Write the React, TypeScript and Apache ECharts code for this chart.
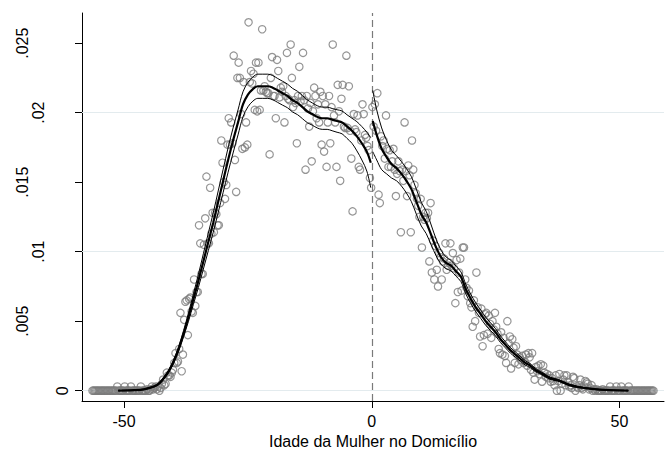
import React, { useEffect, useRef } from 'react';
import * as echarts from 'echarts';

// ---------- data ----------
const BIN_WIDTH = 0.25;
const LEFT_FIRST_BIN = -56.375;
const RIGHT_FIRST_BIN = 0.125;

// bin densities left of the cutoff (x = -56.375 ... -0.125)
const leftBinDensity = [
  0, 0,
  0, 0, 0, 0, 0, 0, 0, 0, 0, 0, 0, 0, 0, 0, 0, 0,
  0, 0, .0003, 0,
  0, 0, 0, 0,
  .0003, 0, 0, 0,
  0, .0003, 0, 0,
  0, 0, 0, 0,
  0, .0003, 0, 0,
  0, 0, .0001, 0,
  0, .0001, .0003, .0001,
  .0002, .0003, .0001, .0003,
  0, .0002, .0005, .0008,
  .0004, .0005, .0013, .0011,
  .0011, .001, .0013, .0015,
  .002, .0027, .002, .0021,
  .003, .0056, .0014, .0026,
  .0051, .0064, .0065, .004,
  .0066, .0067, .0057, .0056,
  .008, .0061, .0071, .0071,
  .0119, .0106, .0084, .0084,
  .0105, .0124, .0154, .0106,
  .0106, .0146, .0113, .0128,
  .0114, .0128, .0127, .0119,
  .0119, .0135, .018, .0164,
  .015, .0138, .0148, .0177,
  .0196, .0177, .0193, .0178,
  .0241, .0166, .0143, .0225,
  .0236, .0225, .0199, .0174,
  .0222, .0175, .0193, .0177,
  .0265, .0222, .023, .0221,
  .0228, .0202, .0236, .0201,
  .0236, .0202, .0216, .026,
  .0216, .0219, .0215, .0214,
  .0214, .017, .0225, .024,
  .0212, .0212, .0196, .0238,
  .023, .0211, .0218, .0215,
  .0219, .0193, .0212, .0243,
  .021, .0209, .0249, .0225,
  .0204, .0209, .0207, .0178,
  .0212, .0233, .0208, .0212,
  .0243, .0209, .0159, .0212,
  .0203, .019, .0207, .0165,
  .0201, .0218, .0212, .0196,
  .0206, .0193, .0215, .0177,
  .0212, .0172, .0206, .0161,
  .0193, .0212, .0178, .0204,
  .0249, .0198, .0193, .0161,
  .022, .0201, .0151, .021,
  .022, .019, .0189, .0241,
  .0189, .0219, .0187, .0167,
  .0129, .0199, .0188, .0186,
  .0198, .0161, .0159, .018,
  .0206, .0199, .0184, .0182,
  .0176, .0173, .0153, .0146,
];

// bin densities right of the cutoff (x = 0.125 ... 56.875)
const rightBinDensity = [
  .0204, .019, .0206, .0187,
  .0214, .0141, .0135, .0183,
  .0176, .018, .0167, .0198,
  .0174, .0161, .0173, .0161,
  .0165, .0174, .0159, .014,
  .0156, .0165, .0158, .0114,
  .0159, .0151, .0193, .0158,
  .014, .0162, .0155, .0114,
  .018, .0159, .0148, .0142,
  .0138, .0133, .0125, .0138,
  .0103, .0125, .0123, .0128,
  .0124, .0128, .0093, .0135,
  .0085, .0108, .008, .0104,
  .0087, .0075, .0099, .0096,
  .008, .0093, .0095, .0106,
  .0087, .009, .0092, .0106,
  .009, .0099, .0088, .0063,
  .0094, .0071, .0085, .0095,
  .0072, .0103, .0103, .008,
  .0074, .0068, .0072, .0063,
  .006, .0046, .0065, .005,
  .0085, .006, .0056, .0039,
  .0059, .0032, .004, .0055,
  .0056, .0041, .0054, .0048,
  .0038, .005, .0044, .0056,
  .0046, .0041, .003, .0027,
  .0042, .0026, .0038, .0025,
  .002, .005, .0034, .0039,
  .0016, .0037, .0031, .002,
  .0032, .0026, .0019, .0024,
  .0022, .0025, .002, .0021,
  .0026, .0018, .0027, .0024,
  .0015, .0027, .0013, .0008,
  .0017, .0014, .0018, .0012,
  .0019, .00065, .0018, .0013,
  .001, .0012, .0009, .0011,
  .00065, .0009, .0007, .0004,
  .0011, 0, .0007, .0012,
  0, .0005, .0008, .0011,
  .0004, .0011, .0006, .0003,
  .0004, .0002, .001, .0009,
  0, .0003, .0002, .0004,
  .0008, .0002, .0001, .0003,
  .0007, .0006, .0005, .0001,
  .0002, .0004, 0, .0001,
  0, .0001, 0, 0,
  0, 0, .0001, 0,
  0, 0, 0, 0,
  .0003, 0, 0, 0,
  0, .0003, 0, 0,
  0, .0003, 0, 0,
  0, 0, 0, .0003,
  0, 0, 0, 0, 0, 0, 0, 0, 0, 0, 0, 0, 0, 0, 0, 0, 0, 0, 0, 0,
];

// fitted density and confidence bands, left of cutoff
const leftFitX = [-51.2, -48, -46, -44, -43, -42, -41, -40, -39, -38, -37, -36, -35, -34, -33, -32, -31, -30, -29, -28, -27, -26, -25, -24, -23, -22, -21, -20, -19, -18, -17, -16, -15, -14, -13, -12, -11, -10, -9, -8, -7, -6, -5, -4, -3, -2, -1, -0.2];
const leftFitMain = [.00001, .00004, .0001, .0003, .0005, .0009, .0014, .0021, .003, .0041, .0053, .0066, .0079, .0093, .0107, .0121, .0136, .0151, .0166, .018, .0193, .0206, .0213, .0217, .0219, .0219, .0219, .0218, .0216, .0214, .0212, .0209, .0207, .0204, .0201, .0199, .0197, .0196, .0196, .0195, .0194, .0193, .019, .0187, .0183, .0178, .0172, .0164];
const leftFitUpper = [.00001, .00005, .00012, .00034, .00056, .00098, .0015, .00223, .00317, .00432, .0056, .00698, .00837, .00985, .01133, .0128, .01437, .01593, .01748, .0189, .0202, .0215, .02218, .02257, .02277, .02277, .02277, .02267, .02246, .02226, .02205, .02175, .02154, .02123, .02092, .0207, .0205, .0204, .0204, .0203, .02021, .02012, .01985, .0196, .01935, .019, .0186, .0182];
const leftFitLower = [.00001, .00003, .00008, .00026, .00044, .00082, .0013, .00197, .00283, .00388, .005, .00622, .00743, .00875, .01007, .0114, .01283, .01427, .01572, .0171, .0184, .0197, .02042, .02083, .02103, .02103, .02103, .02093, .02074, .02054, .02035, .02005, .01986, .01957, .01928, .0191, .0189, .0188, .0188, .0187, .01859, .01848, .01815, .0178, .01725, .0166, .0158, .0146];

// fitted density and confidence bands, right of cutoff
const rightFitX = [0.2, 1, 2, 3, 4, 5, 6, 7, 8, 9, 10, 11, 12, 13, 14, 15, 16, 17, 18, 19, 20, 21, 22, 23, 24, 25, 26, 27, 28, 29, 30, 31, 32, 33, 34, 35, 36, 37, 38, 40, 42, 44, 46, 48, 51.8];
const rightFitMain = [.0194, .0184, .0174, .0168, .0163, .016, .0156, .0151, .0145, .0136, .0127, .0121, .0112, .0103, .0096, .0092, .009, .0086, .0082, .0073, .0066, .006, .0055, .005, .0046, .0042, .0037, .0033, .0029, .0026, .0023, .002, .0018, .0015, .0013, .0011, .0009, .0008, .0007, .0004, .00025, .00015, .00008, .00004, .00001];
const rightFitUpper = [.0216, .0202, .0189, .018, .0173, .0169, .01648, .01598, .0154, .0145, .01355, .0129, .01192, .0109, .0101, .00962, .00938, .00896, .00855, .00764, .00693, .00632, .0058, .00529, .00488, .00446, .00394, .00352, .0031, .00279, .00247, .00216, .00194, .00162, .0014, .00119, .00098, .00087, .00076, .00045, .00029, .00018, .0001, .00005, .00001];
const rightFitLower = [.0172, .0166, .0159, .0156, .0153, .0151, .01472, .01422, .0136, .0127, .01185, .0113, .01048, .0097, .0091, .00878, .00862, .00824, .00785, .00696, .00627, .00568, .0052, .00471, .00432, .00394, .00346, .00308, .0027, .00241, .00213, .00184, .00166, .00138, .0012, .00101, .00082, .00073, .00064, .00035, .00021, .00012, .00006, .00003, .00001];

const CUTOFF = 0;
const xTickValues = [-50, 0, 50];
const yTickValues = [0, 0.005, 0.01, 0.015, 0.02, 0.025];
const yTickLabels = ['0', '.005', '.01', '.015', '.02', '.025'];
const xAxisTitle = 'Idade da Mulher no Domicílio';

// ---------- chart ----------
const FONT = "'Liberation Sans', Arial, Helvetica, sans-serif";
const X_MIN = -58.5;
const X_MAX = 59;
const Y_MIN = -0.00074;
const Y_MAX = 0.02717;

const zip = (xs: number[], ys: number[]) => xs.map((x, i) => [x, ys[i]]);

const binPoints = [
  ...leftBinDensity.map((y, i) => [LEFT_FIRST_BIN + i * BIN_WIDTH, y]),
  ...rightBinDensity.map((y, i) => [RIGHT_FIRST_BIN + i * BIN_WIDTH, y]),
];

const fitLine = (xs: number[], ys: number[], width: number) => ({
  type: 'line',
  data: zip(xs, ys),
  smooth: 0.35,
  showSymbol: false,
  symbol: 'none',
  silent: true,
  z: 3,
  lineStyle: { color: '#000', width },
});

const labelStyle = { fontSize: 16, fontFamily: FONT, color: '#000' };

const option: any = {
  animation: false,
  backgroundColor: '#fff',
  textStyle: { fontFamily: FONT },
  grid: { left: 82, right: 5, top: 13, bottom: 57, containLabel: false },
  xAxis: {
    type: 'value',
    min: X_MIN,
    max: X_MAX,
    name: xAxisTitle,
    nameLocation: 'middle',
    nameGap: 27,
    nameTextStyle: { ...labelStyle },
    axisLine: { show: true, onZero: false, lineStyle: { color: '#000', width: 1 } },
    axisTick: { show: true, length: 7, customValues: xTickValues, lineStyle: { color: '#000', width: 1 } },
    axisLabel: { show: true, margin: 12, customValues: xTickValues, ...labelStyle },
    splitLine: { show: false },
  },
  yAxis: {
    type: 'value',
    min: Y_MIN,
    max: Y_MAX,
    axisLine: { show: true, onZero: false, lineStyle: { color: '#000', width: 1 } },
    axisTick: { show: true, length: 7, customValues: yTickValues, lineStyle: { color: '#000', width: 1 } },
    axisLabel: {
      show: true,
      rotate: 90,
      margin: 12,
      customValues: yTickValues,
      ...labelStyle,
      formatter: (v: number) => {
        const i = yTickValues.findIndex((t) => Math.abs(t - v) < 1e-9);
        const s = i >= 0 ? yTickLabels[i] : '';
        const key = s.length >= 4 ? 'w4' : s.length === 3 ? 'w3' : 'w1';
        return `{${key}|${s}}`;
      },
      rich: {
        w1: { ...labelStyle, padding: [0, 0, 0, 0] },
        w3: { ...labelStyle, padding: [0, 0, 24, 0] },
        w4: { ...labelStyle, padding: [0, 0, 40, 0] },
      },
    },
    splitLine: { show: false },
  },
  series: [
    {
      type: 'scatter',
      data: binPoints,
      symbol: 'circle',
      symbolSize: 7.4,
      silent: true,
      z: 2,
      itemStyle: { color: 'rgba(0,0,0,0)', borderColor: '#7a7a7a', borderWidth: 1.2 },
      markLine: {
        silent: true,
        z: 1,
        symbol: ['none', 'none'],
        label: { show: false },
        data: [
          ...yTickValues.map((v) => ({ yAxis: v, lineStyle: { color: '#e3ebee', width: 1, type: 'solid' } })),
          { xAxis: CUTOFF, lineStyle: { color: '#7a7a7a', width: 1.2, type: [7, 4] } },
        ],
      },
    },
    fitLine(leftFitX, leftFitUpper, 1),
    fitLine(leftFitX, leftFitLower, 1),
    fitLine(leftFitX, leftFitMain, 2.2),
    fitLine(rightFitX, rightFitUpper, 1),
    fitLine(rightFitX, rightFitLower, 1),
    fitLine(rightFitX, rightFitMain, 2.2),
  ],
};

export default function App() {
  const ref = useRef<HTMLDivElement>(null);
  useEffect(() => {
    if (!ref.current) return;
    const chart = echarts.init(ref.current, null, { renderer: 'svg' });
    chart.setOption(option);
    return () => chart.dispose();
  }, []);
  return (
    <div
      ref={ref}
      style={{ position: 'fixed', left: 0, top: 0, width: 669, height: 458, background: '#fff' }}
    />
  );
}
